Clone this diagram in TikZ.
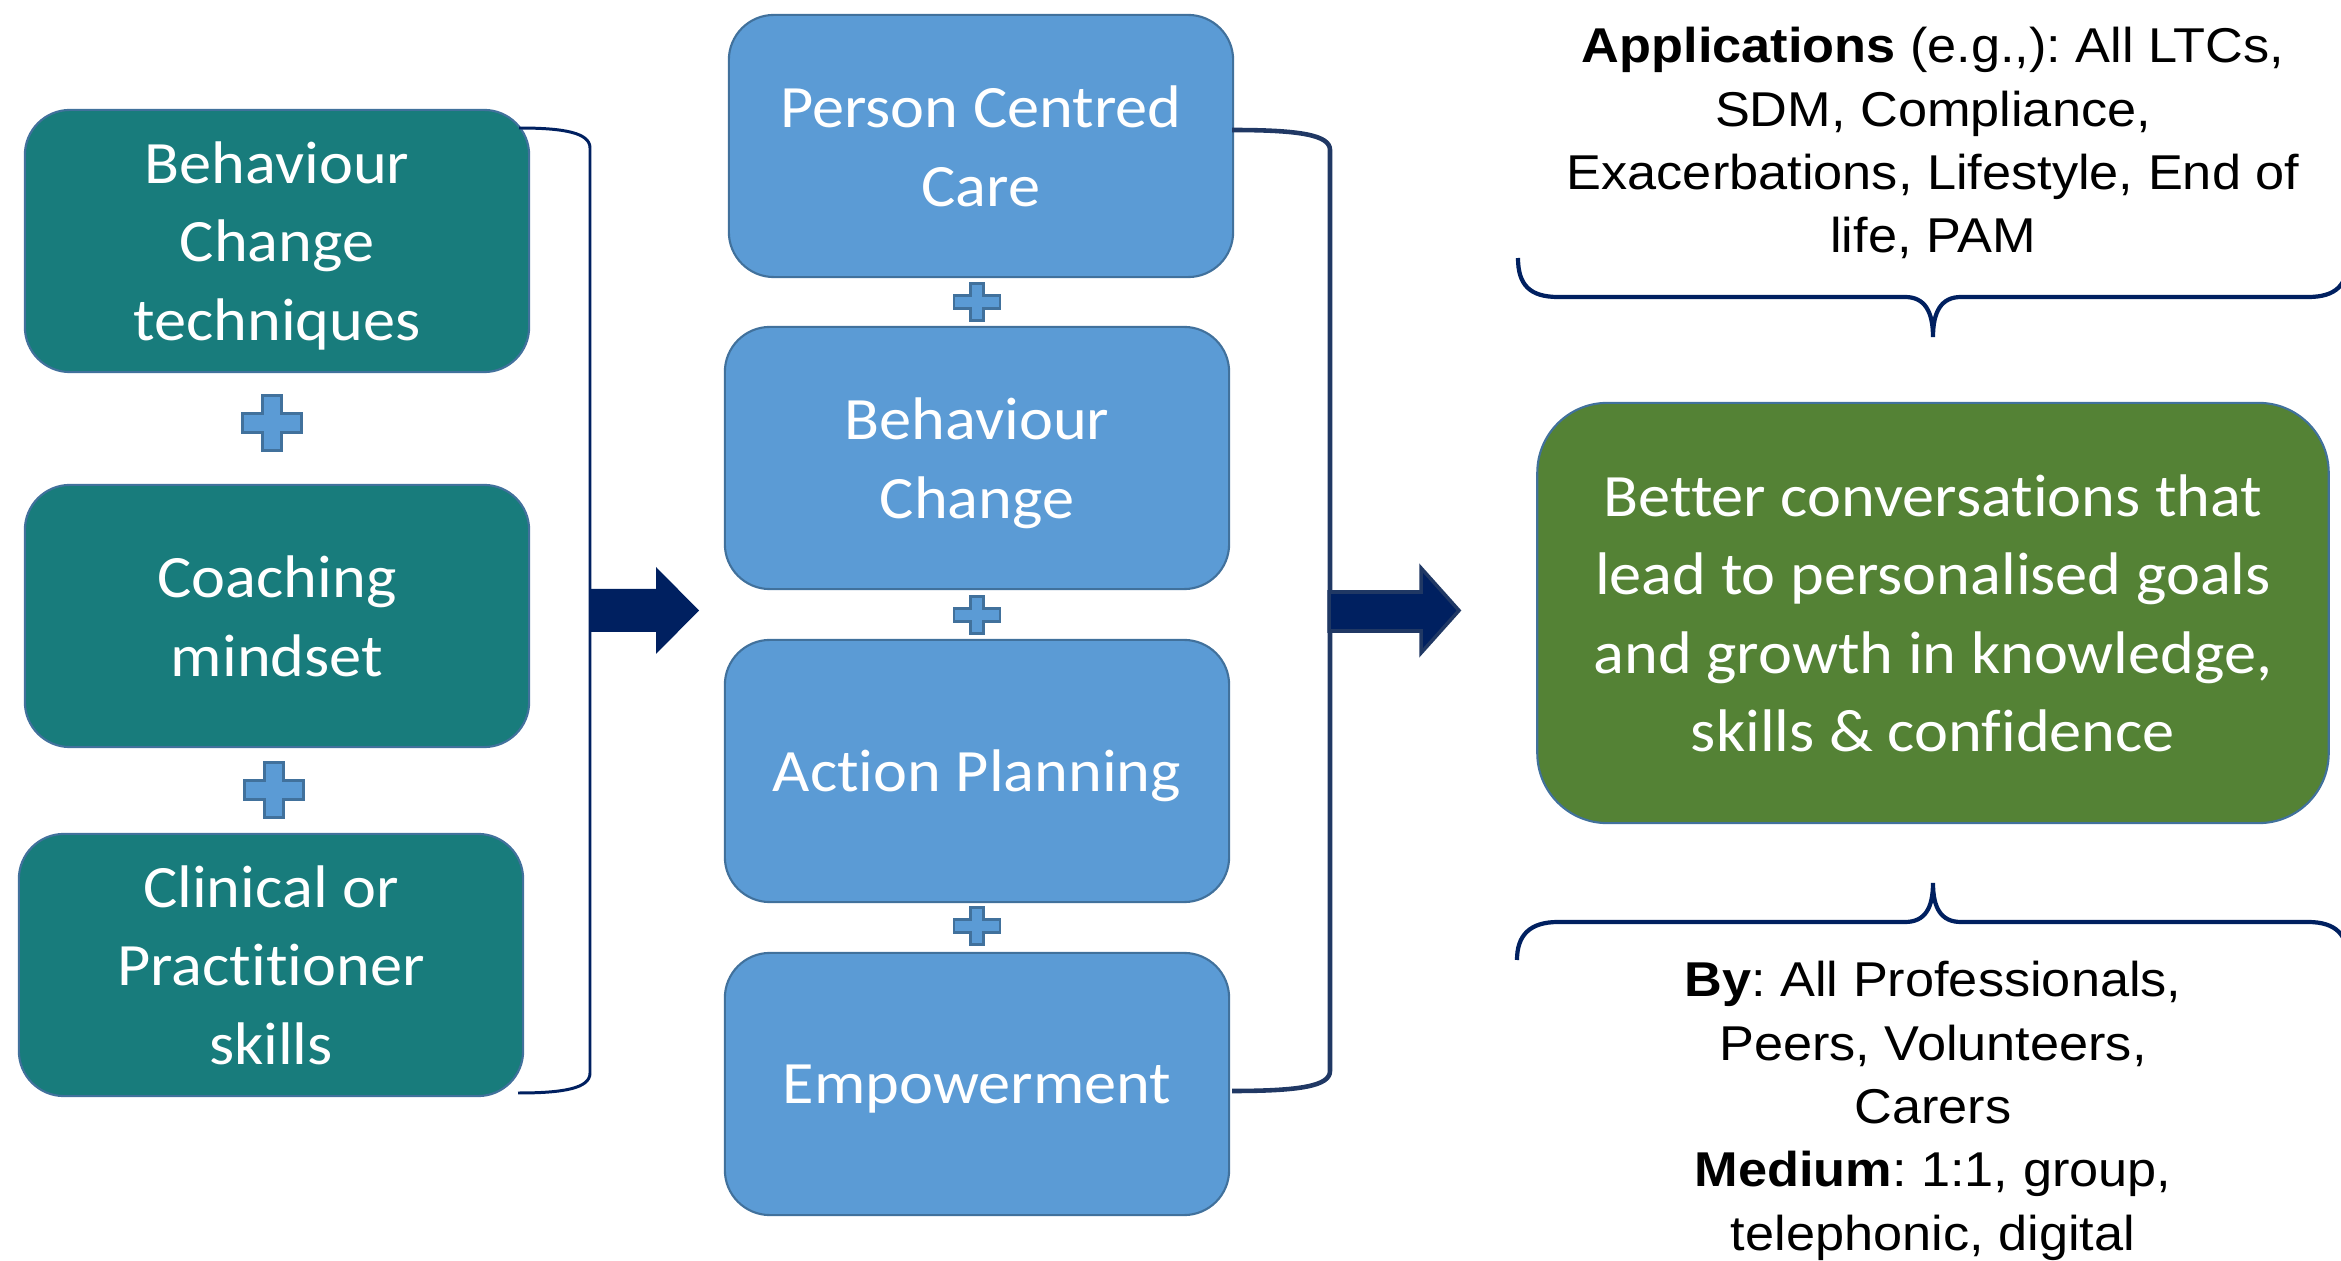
\documentclass[tikz,border=0pt]{standalone}
\usepackage{fontspec}
\setmainfont[FakeStretch=1.07, Ligatures=NoCommon]{Carlito}
\newfontfamily\notefont[FakeStretch=1.07]{Liberation Sans}
\frenchspacing

\definecolor{tealfill}{RGB}{24,124,124}
\definecolor{bluefill}{HTML}{5B9BD5}
\definecolor{greenfill}{HTML}{548235}
\definecolor{edgeblue}{HTML}{41719C}
\definecolor{navy}{HTML}{002060}
\definecolor{navyedge}{HTML}{203864}

% centred lines with a fixed line pitch; the node's base is the first baseline
\newcommand\linesblock[2]{\vtop{\baselineskip=#1\halign{\hfil##\hfil\cr#2\crcr}}}

% plus sign: centre x, centre y, half width, half height, half arm thickness
\newcommand\crossmark[6][]{%
  \filldraw[crossstyle,#1,shift={(#2,#3)}]
    (-#4,-#6) -- (-#6,-#6) -- (-#6,-#5) -- (#6,-#5) -- (#6,-#6) -- (#4,-#6)
    -- (#4,#6) -- (#6,#6) -- (#6,#5) -- (-#6,#5) -- (-#6,#6) -- (-#4,#6) -- cycle;}

\tikzset{
  stepbox/.style={draw=edgeblue, line width=0.6pt, rounded corners=0.45cm,
    minimum width=5.04cm, minimum height=2.62cm, inner sep=0pt,
    text=white, align=center, text depth=0pt,
    font=\fontsize{17.1}{22.3}\selectfont},
  tealbox/.style={stepbox, fill=tealfill},
  bluebox/.style={stepbox, fill=bluefill},
  goalbox/.style={stepbox, fill=greenfill, rounded corners=0.7cm,
    minimum width=7.91cm, minimum height=4.2cm},
  crossstyle/.style={fill=bluefill, draw=edgeblue, line width=0.6pt},
  notetext/.style={inner sep=0pt, anchor=base, text=black,
    font=\notefont\fontsize{13.9}{18}\selectfont},
  bracketline/.style={draw=navy, line width=0.85pt},
  braceline/.style={draw=navy, line width=1.2pt}
}

\begin{document}
\begin{tikzpicture}[x=0.01cm, y=-0.01cm]
\useasboundingbox (0,0) rectangle (2341,1261);

% left column: ingredients
\node[tealbox] (bct)   at (277,241)   {Behaviour\\Change\\techniques};
\node[tealbox] (coach) at (277,616)   {Coaching\\mindset};
\node[tealbox] (clin)  at (271,965)   {Clinical or\\Practitioner\\skills};
\crossmark{272}{423}{29.5}{27.5}{9.5}
\crossmark{274}{790}{29.5}{27.5}{9.5}

% middle column: approach
\node[bluebox] (pcc) at (981,146)  {Person Centred\\Care};
\node[bluebox] (bc)  at (977,458)  {Behaviour\\Change};
\node[bluebox] (ap)  at (977,771)  {Action Planning};
\node[bluebox] (emp) at (977,1084) {Empowerment};
\crossmark{977}{302}{23}{18.5}{6.5}
\crossmark{977}{615}{23}{18.5}{6.5}
\crossmark{977}{926}{23}{18.5}{6.5}

% right: outcome
\node[goalbox] (goal) at (1933,613)
  {Better conversations that\\lead to personalised goals\\and growth in knowledge,\\skills \& confidence};

% brackets gathering each column
\draw[bracketline] (519,128) .. controls (565,128) and (590,133) .. (590,148)
  -- (590,1073) .. controls (590,1088) and (565,1093) .. (518,1093);
\draw[bracketline, draw=navyedge, line width=1.3pt]
  (1232,130) .. controls (1300,130) and (1330,135) .. (1330,150)
  -- (1330,1071) .. controls (1330,1086) and (1300,1091) .. (1232,1091);

% block arrows
\fill[navy] (590,589) -- (656,589) -- (656,567) -- (699,610.5) -- (656,654)
  -- (656,632) -- (590,632) -- cycle;
\filldraw[fill=navy, draw=navyedge, line width=1pt]
  (1329,592) -- (1421,592) -- (1421,568) -- (1459,610.5) -- (1421,653)
  -- (1421,631) -- (1329,631) -- cycle;

% braces
\draw[braceline] (1518,258) .. controls (1518,285) and (1530,297) .. (1558,297)
  -- (1905,297) .. controls (1925,297) and (1933,312) .. (1933,337)
  .. controls (1933,312) and (1941,297) .. (1961,297)
  -- (2308,297) .. controls (2336,297) and (2348,285) .. (2348,258);
\draw[braceline] (1517,960) .. controls (1517,935) and (1530,922) .. (1558,922)
  -- (1905,922) .. controls (1925,922) and (1933,908) .. (1933,883)
  .. controls (1933,908) and (1941,922) .. (1961,922)
  -- (2308,922) .. controls (2336,922) and (2348,935) .. (2348,960);

% notes
\node[notetext] (apps) at (1933,63) {\linesblock{18pt}{%
  \textbf{Applications} (e.g.,): All LTCs,\cr
  SDM, Compliance,\cr
  Exacerbations, Lifestyle, End of\cr
  life, PAM}};
\node[notetext] (who) at (1933,997) {\linesblock{18pt}{%
  \textbf{By}: All Professionals,\cr
  Peers, Volunteers,\cr
  Carers\cr
  \textbf{Medium}: 1:1, group,\cr
  telephonic, digital}};
\end{tikzpicture}
\end{document}
